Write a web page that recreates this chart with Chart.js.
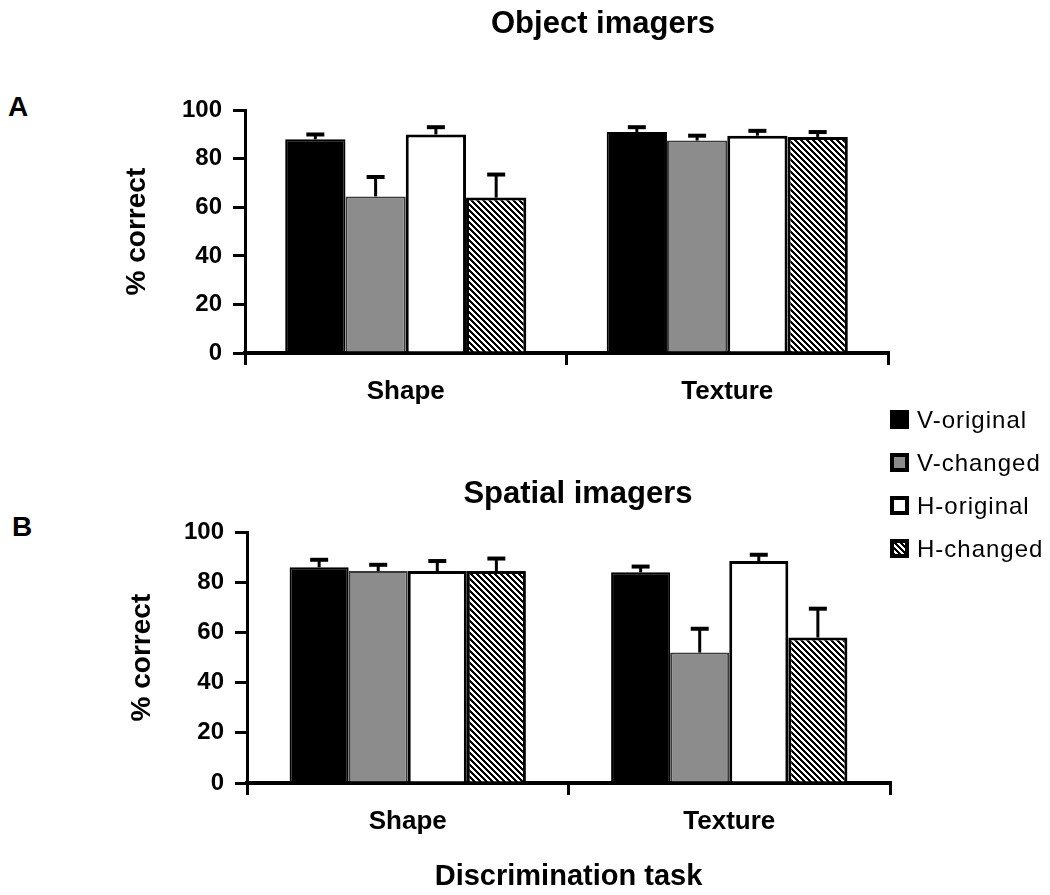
<!DOCTYPE html>
<html>
<head>
<meta charset="utf-8">
<script src="https://cdn.jsdelivr.net/npm/chart.js@4.4.1/dist/chart.umd.min.js"></script>
<style>
  body { margin: 0; width: 1050px; height: 895px; overflow: hidden; background: #fff; font-family: "Liberation Sans", Arial, sans-serif; }
  .wrap { position: absolute; left: 0; }
  .panel-letter { position: absolute; font-size: 28px; font-weight: bold; line-height: 28px; }
  #legend { position: absolute; left: 890px; top: 398px; }
  .item { height: 43px; display: flex; align-items: center; }
  .box { width: 19px; height: 19px; border: 4px solid #000; box-sizing: border-box; margin-right: 8px; }
  .item span { font-size: 24px; letter-spacing: 1px; color: #000; }
</style>
</head>
<body>
<div class="panel-letter" style="left:8px; top:93px;">A</div>
<div class="panel-letter" style="left:12px; top:513px;">B</div>

<div class="wrap" style="top:0; width:1206px; height:440px;"><canvas id="chartA"></canvas></div>
<div class="wrap" style="top:440px; width:1156px; height:455px;"><canvas id="chartB"></canvas></div>

<div id="legend"></div>

<script>
// categories and series
var categories = ["Shape", "Texture"];
var seriesNames = ["V-original", "V-changed", "H-original", "H-changed"];
var yTicks = [0, 20, 40, 60, 80, 100];

// Object imagers (panel A): mean % correct and upper error
var objVOriginal = [88, 91];
var objVChanged = [64.5, 87.5];
var objHOriginal = [90, 89.5];
var objHChanged = [64, 89];
var objVOriginalErr = [2, 2];
var objVChangedErr = [8, 2];
var objHOriginalErr = [3, 2];
var objHChangedErr = [9.5, 2];

// Spatial imagers (panel B)
var spaVOriginal = [86, 84];
var spaVChanged = [84.5, 52];
var spaHOriginal = [84.5, 88.5];
var spaHChanged = [84.5, 58];
var spaVOriginalErr = [3, 2.3];
var spaVChangedErr = [2.5, 9.5];
var spaHOriginalErr = [4, 2.5];
var spaHChangedErr = [5, 11.5];

Chart.defaults.font.family = '"Liberation Sans", Arial, sans-serif';
Chart.defaults.color = "#000";
Chart.defaults.animation = false;

// diagonal hatch for H-changed
function makeHatch() {
  var c = document.createElement("canvas");
  c.width = 6; c.height = 6;
  var g = c.getContext("2d");
  var img = g.createImageData(6, 6);
  for (var y = 0; y < 6; y++) {
    for (var x = 0; x < 6; x++) {
      var k = (y * 6 + x) * 4;
      var v = ((x - y + 6) % 6) < 3 ? 0 : 255;
      img.data[k] = v; img.data[k + 1] = v; img.data[k + 2] = v; img.data[k + 3] = 255;
    }
  }
  g.putImageData(img, 0, 0);
  return c;
}
var hatchCanvas = makeHatch();
var hatch = document.createElement("canvas").getContext("2d").createPattern(hatchCanvas, "repeat");

var fills = ["#000000", "#8c8c8c", "#ffffff", hatch];
var borders = ["#000000", "#3a3a3a", "#000000", "#000000"];
var borderWidths = [2, 2, 3, 3];

// draws the upper error bars from the dataset's errors array
var errorBars = {
  id: "errorBars",
  afterDatasetsDraw: function (chart) {
    var ctx = chart.ctx;
    var yScale = chart.scales.y;
    ctx.save();
    ctx.strokeStyle = "#000";
    chart.data.datasets.forEach(function (ds, i) {
      chart.getDatasetMeta(i).data.forEach(function (bar, j) {
        var top = yScale.getPixelForValue(ds.data[j] + ds.errors[j]);
        ctx.lineWidth = 3;
        ctx.beginPath();
        ctx.moveTo(bar.x, bar.y);
        ctx.lineTo(bar.x, top);
        ctx.stroke();
        ctx.lineWidth = 4;
        ctx.beginPath();
        ctx.moveTo(bar.x - 9, top);
        ctx.lineTo(bar.x + 9, top);
        ctx.stroke();
      });
    });
    ctx.restore();
  }
};

function makePanel(id, p) {
  return new Chart(document.getElementById(id), {
    type: "bar",
    data: {
      labels: categories,
      datasets: seriesNames.map(function (name, i) {
        return {
          label: name,
          data: p.values[i],
          errors: p.errors[i],
          backgroundColor: fills[i],
          borderColor: borders[i],
          borderWidth: borderWidths[i],
          borderSkipped: "bottom",
          categoryPercentage: p.catPct,
          barPercentage: 1
        };
      })
    },
    options: {
      responsive: true,
      maintainAspectRatio: false,
      layout: { padding: 0 },
      plugins: {
        legend: { display: false },
        tooltip: { enabled: false },
        title: {
          display: true,
          text: p.title,
          font: { size: 31, weight: "bold" },
          padding: p.titlePad
        }
      },
      scales: {
        x: {
          grid: { display: true, drawOnChartArea: false, drawTicks: true, tickLength: 12, color: "#000", lineWidth: 3, offset: true },
          border: { display: true, color: "#000", width: 4 },
          ticks: { font: { size: 26, weight: "bold" }, padding: 11 },
          title: p.xTitle,
          afterFit: function (s) { s.height = p.xHeight; }
        },
        y: {
          min: 0,
          max: 100,
          afterBuildTicks: function (s) { s.ticks = yTicks.map(function (v) { return { value: v }; }); },
          grid: { display: true, drawOnChartArea: false, drawTicks: true, tickLength: 12, color: "#000", lineWidth: 3 },
          border: { display: true, color: "#000", width: 3 },
          ticks: { font: { size: 24, weight: "bold" }, padding: 11 },
          title: { display: true, text: "% correct", font: { size: 28, weight: "bold" }, padding: { top: p.yTitleTop, bottom: 0 } },
          afterFit: function (s) { s.width = p.yWidth; }
        },
        spacer: {
          type: "linear",
          position: "right",
          display: true,
          grid: { display: false },
          border: { display: false },
          ticks: { display: false },
          afterFit: function (s) { s.width = p.rightSpace; }
        }
      }
    },
    plugins: [errorBars]
  });
}

makePanel("chartA", {
  title: "Object imagers",
  titlePad: { top: 6, bottom: 67 },
  values: [objVOriginal, objVChanged, objHOriginal, objHChanged],
  errors: [objVOriginalErr, objVChangedErr, objHOriginalErr, objHChangedErr],
  catPct: 0.75,
  xHeight: 87,
  xTitle: { display: false },
  yWidth: 245,
  yTitleTop: 120,
  rightSpace: 318
});

makePanel("chartB", {
  title: "Spatial imagers",
  titlePad: { top: 36, bottom: 19 },
  values: [spaVOriginal, spaVChanged, spaHOriginal, spaHChanged],
  errors: [spaVOriginalErr, spaVChangedErr, spaHOriginalErr, spaHChangedErr],
  catPct: 0.735,
  xHeight: 112,
  xTitle: { display: true, text: "Discrimination task", font: { size: 29, weight: "bold" }, padding: { top: 0, bottom: 1 } },
  yWidth: 247,
  yTitleTop: 125,
  rightSpace: 266
});

// legend shared by both panels
var legend = document.getElementById("legend");
var hatchUrl = hatchCanvas.toDataURL();
seriesNames.forEach(function (name, i) {
  var row = document.createElement("div");
  row.className = "item";
  var box = document.createElement("div");
  box.className = "box";
  if (i === 3) {
    box.style.backgroundImage = "url(" + hatchUrl + ")";
  } else {
    box.style.background = fills[i];
  }
  var label = document.createElement("span");
  label.textContent = name;
  row.appendChild(box);
  row.appendChild(label);
  legend.appendChild(row);
});
</script>
</body>
</html>
